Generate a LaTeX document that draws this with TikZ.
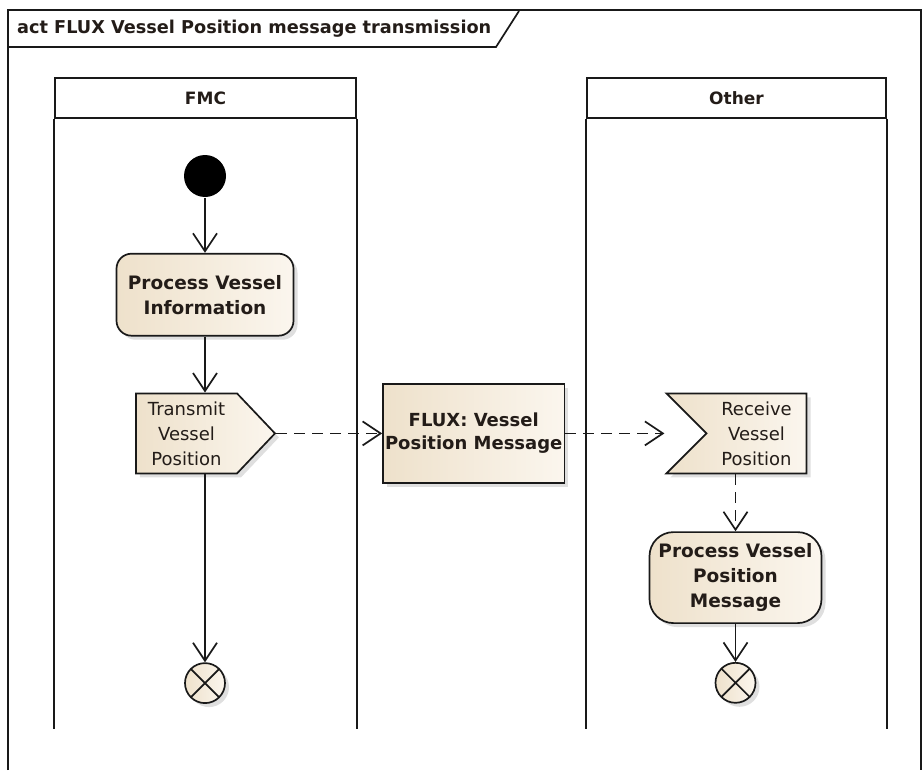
\documentclass[tikz,border=0pt]{standalone}
\usepackage{fontspec}
\setmainfont{DejaVu Sans}
\usepackage{xcolor}
\definecolor{BoxLight}{RGB}{251, 246, 238}
\definecolor{BoxDark}{RGB}{238, 225, 203}
\definecolor{LineDark}{RGB}{25, 25, 25}
\definecolor{TextDark}{RGB}{35, 28, 24}
\usetikzlibrary{shapes.symbols, arrows.meta, positioning, shadows}

\begin{document}
\begin{tikzpicture}[
        x=1pt, y=-1pt,
        line width=1.7pt,
        base/.style={draw=LineDark, line width=1.7pt, left color=BoxDark, right color=BoxLight, text=TextDark, drop shadow={shadow xshift=4pt, shadow yshift=-4pt, opacity=0.25}},
        action/.style={base, rectangle, rounded corners=15pt, align=center, inner sep=2pt, font=\fontsize{18.5}{25}\selectfont\bfseries},
        objbox/.style={base, rectangle, align=center, inner sep=2pt, minimum width=179pt, minimum height=99pt, font=\fontsize{18}{23}\selectfont\bfseries},
        sendsig/.style={base, signal, signal to=east, signal from=nowhere, signal pointer angle=93, align=center, inner sep=3pt, minimum width=139pt, minimum height=80pt, font=\fontsize{18}{25}\selectfont},
        acceptsig/.style={base, signal, signal to=nowhere, signal from=west, signal pointer angle=90, align=center, inner sep=3pt, minimum width=140pt, minimum height=80pt, font=\fontsize{18}{25}\selectfont},
        initial/.style={circle, fill=black, minimum size=42pt, inner sep=0pt},
        final/.style={base, circle, minimum size=40pt, inner sep=0pt, path picture={
            \draw[LineDark, line width=1.7pt] (path picture bounding box.north west) -- (path picture bounding box.south east)
                (path picture bounding box.north east) -- (path picture bounding box.south west);}},
        lanehead/.style={draw=LineDark, rectangle, minimum height=40pt, text=TextDark, font=\fontsize{17}{20}\selectfont\bfseries},
        flow/.style={-{Straight Barb[length=18pt, width=24pt]}, LineDark, line width=1.7pt},
        objflow/.style={flow, dash pattern=on 11pt off 7pt}
    ]
        % Frame
        \draw[LineDark] (8,770) -- (8,10) -- (921,10) -- (921,770);
        \node[anchor=west, text=TextDark, font=\fontsize{17.7}{20}\selectfont\bfseries] (title) at (13,29) {act FLUX Vessel Position message transmission};
        \draw[LineDark] (8,47) -- (496,47) -- (519,11);

        % Lanes
        \node[lanehead, minimum width=301pt] (fmc) at (205.5,98) {FMC};
        \node[lanehead, minimum width=299pt] (other) at (736.5,98) {Other};
        \draw[LineDark] (fmc.south west) -- ++(0,610) (fmc.south east) -- ++(0,610);
        \draw[LineDark] (other.south west) -- ++(0,610) (other.south east) -- ++(0,610);

        % Nodes
        \node[initial] (init) at (205,176) {};
        \node[action, below=55pt of init, minimum width=177pt, minimum height=82pt] (pvi) {Process Vessel\\Information};
        \node[sendsig, below=56pt of pvi, xshift=-18.5pt] (tx) {Transmit\\Vessel\\Position};
        \node[final, below=188pt of tx, xshift=18.5pt] (fin1) {};
        \node[objbox, right=106pt of tx] (flux) {FLUX: Vessel\\Position Message};
        \node[acceptsig, right=140pt of flux] (rx) {Receive\\Vessel\\Position};
        \node[action, rounded corners=24pt, below=57pt of rx, xshift=-21pt, minimum width=172pt, minimum height=91pt] (pvpm) {Process Vessel\\Position\\Message};
        \node[final, below=38pt of pvpm] (fin2) {};

        % Arrows
        \draw[flow] (init) -- (pvi);
        \draw[flow] (pvi.south) -- (pvi.south |- tx.north);
        \draw[flow] (fin1.north |- tx.south) -- (fin1.north);
        \draw[objflow] (tx.east) -- (flux.west);
        \draw[objflow] (flux.east) -- (flux.east -| rx.north west);
        \draw[objflow] (pvpm.north |- rx.south) -- (pvpm.north);
        \draw[flow] (pvpm) -- (fin2);

        \useasboundingbox (0,0) rectangle (924,770);
    \end{tikzpicture}
\end{document}
